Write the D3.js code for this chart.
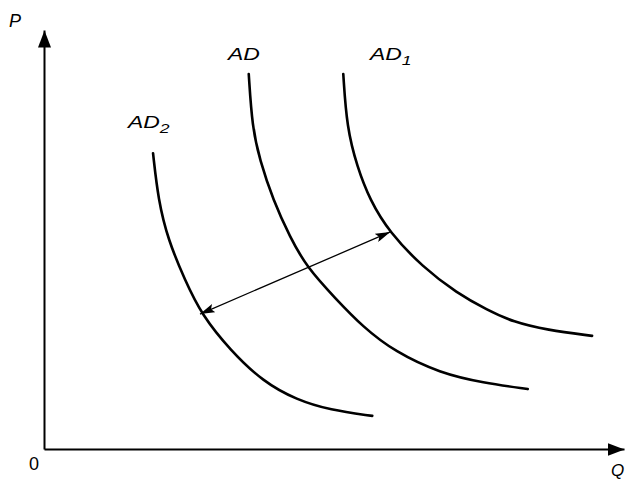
<!DOCTYPE html>
<html>
<head>
<meta charset="utf-8">
<script src="https://cdn.jsdelivr.net/npm/d3@7"></script>
<style>
  body { margin: 0; background: #fff; }
  text { font-family: "Liberation Sans", Arial, sans-serif; font-style: italic; fill: #000; }
</style>
</head>
<body>
<script>
let width = 630, height = 479;

// curve points, [Q, P] on a 0-100 scale
let ad2 = [[18.8, 70.6], [19.7, 59.4], [21.4, 49.9], [24.3, 40.3], [27.2, 32.0], [32.1, 23.6],
           [37.8, 16.0], [43.6, 11.7], [49.3, 9.3], [56.6, 7.9]]
let ad = [[35.3, 89.5], [35.9, 76.8], [37.2, 69.0], [39.5, 59.4], [42.4, 50.6], [45.3, 43.4],
          [50.2, 36.0], [55.0, 29.1], [60.5, 23.2], [68.3, 18.1], [75.7, 15.8], [83.4, 14.3]]
let ad1 = [[51.6, 89.5], [52.2, 76.8], [54.0, 67.3], [56.2, 59.4], [59.5, 51.8], [65.3, 43.4],
           [71.2, 37.2], [76.4, 33.2], [80.9, 30.3], [86.7, 28.4], [94.5, 27.0]]
// the two-way shift arrow between AD2 and AD1
let shift = [[26.9, 32.2], [59.7, 51.8]]
let curveNames = ['AD2', 'AD', 'AD1']

let svg = d3.select('body').append('svg')
    .attr('width', width).attr('height', height)

let x = d3.scaleLinear().domain([0, 100]).range([44, 624])
let y = d3.scaleLinear().domain([0, 100]).range([449, 30])

let defs = svg.append('defs')
defs.append('marker')
    .attr('id', 'axisHead')
    .attr('viewBox', '0 0 10 10')
    .attr('preserveAspectRatio', 'none')
    .attr('refX', 10).attr('refY', 5)
    .attr('markerWidth', 17).attr('markerHeight', 13)
    .attr('markerUnits', 'userSpaceOnUse')
    .attr('orient', 'auto')
    .append('path').attr('d', 'M0,0L10,5L0,10z').attr('fill', '#000')
defs.append('marker')
    .attr('id', 'shiftHead')
    .attr('viewBox', '0 0 10 10')
    .attr('preserveAspectRatio', 'none')
    .attr('refX', 10).attr('refY', 5)
    .attr('markerWidth', 15).attr('markerHeight', 9)
    .attr('markerUnits', 'userSpaceOnUse')
    .attr('orient', 'auto-start-reverse')
    .append('path').attr('d', 'M0,0L10,5L0,10L2,5z').attr('fill', '#000')

// axes: no ticks, just the arrowed lines
svg.append('g')
    .attr('transform', `translate(0, ${y(0)})`)
    .call(d3.axisBottom(x).tickValues([]).tickSizeOuter(0))
    .call(g => g.select('.domain').attr('stroke-width', 2).attr('marker-end', 'url(#axisHead)'))
svg.append('g')
    .attr('transform', `translate(${x(0)}, 0)`)
    .call(d3.axisLeft(y).tickValues([]).tickSizeOuter(0))
    .call(g => g.select('.domain').attr('stroke-width', 2).attr('marker-end', 'url(#axisHead)'))

let line = d3.line()
    .x(d => x(d[0]))
    .y(d => y(d[1]))
    .curve(d3.curveBasis)

svg.selectAll('.curve')
    .data([ad2, ad, ad1])
    .join('path')
    .attr('class', 'curve')
    .attr('d', line)
    .attr('fill', 'none')
    .attr('stroke', '#000')
    .attr('stroke-width', 2.6)
    .attr('stroke-linecap', 'round')

svg.append('path')
    .attr('d', d3.line().x(d => x(d[0])).y(d => y(d[1]))(shift))
    .attr('fill', 'none')
    .attr('stroke', '#000')
    .attr('stroke-width', 1.3)
    .attr('marker-start', 'url(#shiftHead)')
    .attr('marker-end', 'url(#shiftHead)')

// curve labels, stretched wide like the original lettering
let labelPos = [[128, 128], [228, 60], [370, 60]]
curveNames.forEach((name, i) => {
    let t = svg.append('text')
        .attr('transform', `translate(${labelPos[i][0]}, ${labelPos[i][1]}) scale(1.35, 1)`)
        .attr('font-size', 17)
    t.append('tspan').text(name.slice(0, 2))
    if (name.length > 2) {
        t.append('tspan').attr('font-size', 13).attr('dy', 5).text(name.slice(2))
    }
})

svg.append('text').attr('x', 9).attr('y', 27).attr('font-size', 18).text('P')
svg.append('text').attr('x', 611).attr('y', 476).attr('font-size', 17).text('Q')
svg.append('text').attr('x', 29).attr('y', 470).attr('font-size', 18)
    .style('font-style', 'normal').text('0')
</script>
</body>
</html>
